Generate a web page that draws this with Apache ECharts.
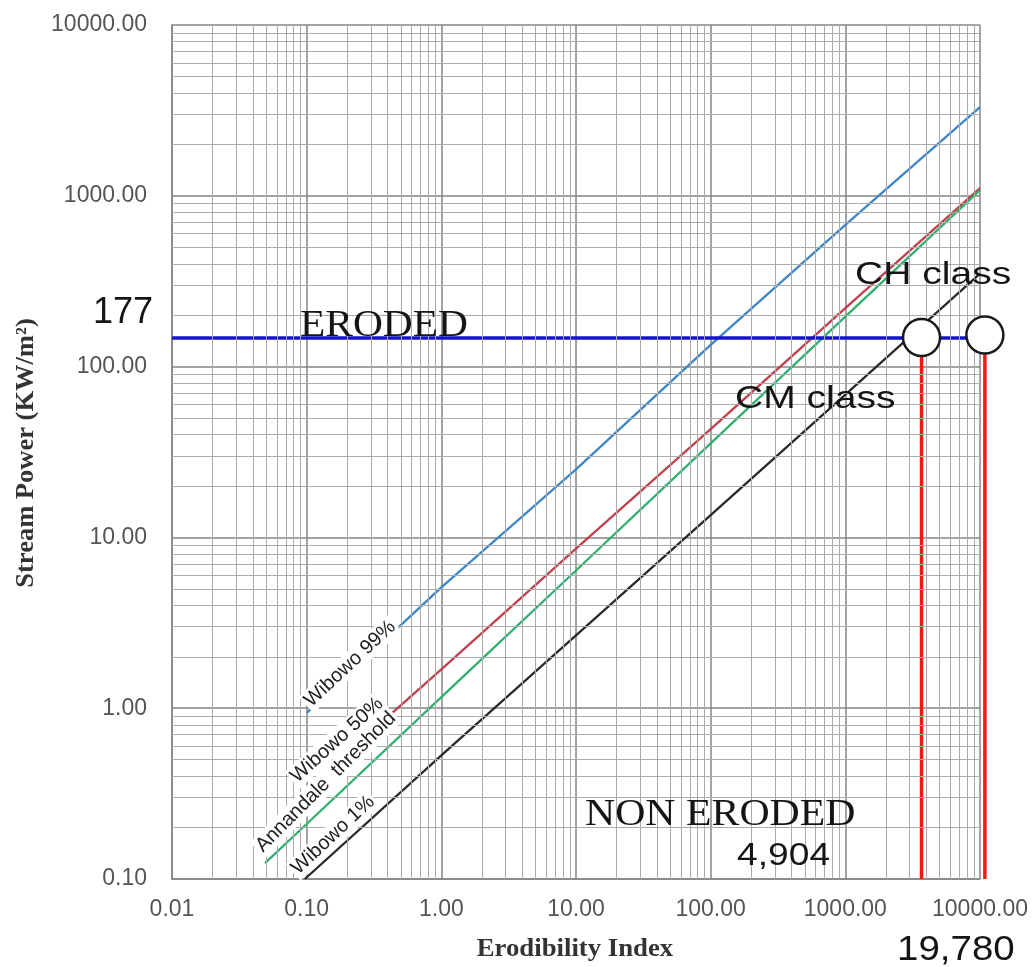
<!DOCTYPE html>
<html>
<head>
<meta charset="utf-8">
<script src="https://cdn.jsdelivr.net/npm/echarts@6/dist/echarts.min.js"></script>
<style>html,body{margin:0;padding:0;background:#fff}#c{width:1033px;height:967px}</style>
</head>
<body>
<div id="c"></div>
<script>
// ---- data ----
const xTickLabels = ['0.01','0.10','1.00','10.00','100.00','1000.00','10000.00'];
const yTickLabels = ['0.10','1.00','10.00','100.00','1000.00','10000.00'];
const xMinorValues = [0.02,0.03,0.04,0.05,0.06,0.07,0.08,0.09,0.2,0.3,0.4,0.5,0.6,0.7,0.8,0.9,2,3,4,5,6,7,8,9,20,30,40,50,60,70,80,90,200,300,400,500,600,700,800,900,2000,3000,4000,5000,6000,7000,8000,9000];
const yMinorValues = [0.2,0.3,0.4,0.5,0.6,0.7,0.8,0.9,2,3,4,5,6,7,8,9,20,30,40,50,60,70,80,90,200,300,400,500,600,700,800,900,2000,3000,4000,5000,6000,7000,8000,9000];

const wibowo99  = [[0.1,0.94],[1,5.1],[10,25],[100,134],[1000,676],[10000,3310]];
const wibowo50  = [[0.4,0.89],[1,1.69],[10,8.6],[100,43],[1000,220],[10000,1110]];
const annandale = [[0.049,0.124],[0.1,0.21],[1,1.16],[10,6.4],[100,35.5],[1000,196],[10000,1080]];
const wibowo1   = [[0.097,0.1],[1,0.53],[10,2.67],[100,13.5],[1000,68.5],[10000,350]];

const erodedLine   = [[0.01,147],[10870,147]];
const chPoint      = [3680,148];
const cmPoint      = [10870,153];
// [x, yBottom, yTop]
const dropLines    = [[3680,0.1,148],[10870,0.1,153]];

const curveLabels = [
  {text:'Wibowo 99%', at:[0.21,1.82], angle:43},
  {text:'Wibowo 50%', at:[0.168,0.65], angle:42},
  {text:'Annandale  threshold', at:[0.139,0.37], angle:45},
  {text:'Wibowo 1%', at:[0.157,0.181], angle:43}
];

const chart = echarts.init(document.getElementById('c'), null, {renderer:'canvas'});

function lbl(arr, offset){ return function(v){ const k = Math.round(Math.log10(v)); const s = arr[k+offset]; return s !== undefined ? s : ''; }; }

const axisCommon = {
  type:'log', logBase:10,
  axisTick:{show:false},
  axisLine:{show:true, lineStyle:{color:'#858585', width:1.5}},
  splitLine:{show:true, lineStyle:{color:'#858585', width:1.5}}
};

const option = {
  animation:false,
  backgroundColor:'#ffffff',
  grid:{left:172, top:25, width:808, height:854},
  xAxis: Object.assign({}, axisCommon, {
    min:0.01, max:10000,
    axisLabel:{formatter:lbl(xTickLabels,2), fontFamily:'Liberation Sans', fontSize:23, color:'#555', margin:19, showMinLabel:true, showMaxLabel:true}
  }),
  yAxis: Object.assign({}, axisCommon, {
    min:0.1, max:10000,
    axisLabel:{formatter:lbl(yTickLabels,1), fontFamily:'Liberation Sans', fontSize:23, color:'#555', margin:25, showMinLabel:true, showMaxLabel:true}
  }),
  series:[
    {
      type:'line', data:[[1,1]], showSymbol:false, lineStyle:{opacity:0}, z:1, silent:true,
      markLine:{
        silent:true, symbol:['none','none'], label:{show:false}, animation:false,
        lineStyle:{color:'#ababab', width:1, type:'solid'},
        emphasis:{disabled:true},
        data: xMinorValues.map(v=>({xAxis:v})).concat(yMinorValues.map(v=>({yAxis:v})))
      }
    },
    {name:'Wibowo 99%', type:'line', data:wibowo99, showSymbol:false, lineStyle:{color:'#3f86c8', width:2.3}, z:3},
    {name:'Wibowo 50%', type:'line', data:wibowo50, showSymbol:false, lineStyle:{color:'#c2404c', width:2.3}, z:3},
    {name:'Annandale threshold', type:'line', data:annandale, showSymbol:false, lineStyle:{color:'#2fb06e', width:2.3}, z:3},
    {name:'Wibowo 1%', type:'line', data:wibowo1, showSymbol:false, lineStyle:{color:'#2a2a2a', width:2.3}, z:3},
    {type:'line', data:erodedLine, showSymbol:false, clip:false, lineStyle:{color:'#1414cc', width:3.5}, z:4},
    {type:'custom', data:dropLines, clip:false, z:4, silent:true,
      encode:{x:0, y:[1,2]},
      renderItem:function(params, api){
        const x = api.value(0);
        const p0 = api.coord([x, api.value(1)]);
        const p1 = api.coord([x, api.value(2)]);
        return {type:'line', shape:{x1:p0[0], y1:p0[1], x2:p1[0], y2:p1[1]},
                style:{stroke:'#ff1414', lineWidth:3.5}};
      }
    },
    {type:'scatter', data:[chPoint, cmPoint], clip:false, symbol:'circle', symbolSize:37,
      itemStyle:{color:'#ffffff', borderColor:'#1a1a1a', borderWidth:2.5, opacity:1}, z:5}
  ]
};
chart.setOption(option);

function txt(text, x, y, font, opts){
  opts = opts || {};
  return {
    type:'text', x:x, y:y, z:100, silent:true,
    rotation: opts.rotation || 0,
    scaleX: opts.scaleX || 1,
    style:Object.assign({text:text, font:font, fill:opts.fill || '#151515',
      align:opts.align || 'left', verticalAlign:'middle'}, opts.style || {})
  };
}

const g = [];
curveLabels.forEach(function(c){
  const p = chart.convertToPixel({gridIndex:0}, c.at);
  g.push(txt(c.text, p[0], p[1], '20px "Liberation Sans"', {
    align:'center', rotation:c.angle*Math.PI/180, fill:'#222',
    style:{backgroundColor:'#ffffff', padding:[1,2]}
  }));
});
g.push(txt('177', 93, 313, '36px "Liberation Sans"'));
g.push(txt('ERODED', 300, 326, '38px "Liberation Serif"', {scaleX:1.09}));
g.push(txt('NON ERODED', 585, 815, '38px "Liberation Serif"', {scaleX:1.1}));
g.push(txt('4,904', 737, 856, '31px "Liberation Sans"', {scaleX:1.2}));
g.push(txt('19,780', 897, 950, '35px "Liberation Sans"', {scaleX:1.1}));
g.push(txt('CH class', 855, 275, '32px "Liberation Sans"', {scaleX:1.22}));
g.push(txt('CM class', 735, 399, '32px "Liberation Sans"', {scaleX:1.22}));
g.push(txt('Stream Power (KW/m²)', 27, 453, 'bold 25px "Liberation Serif"', {align:'center', rotation:Math.PI/2, scaleX:1.06, fill:'#333'}));
g.push(txt('Erodibility Index', 575, 950, 'bold 25px "Liberation Serif"', {align:'center', scaleX:1.07, fill:'#333'}));
chart.setOption({graphic:g});
</script>
</body>
</html>
